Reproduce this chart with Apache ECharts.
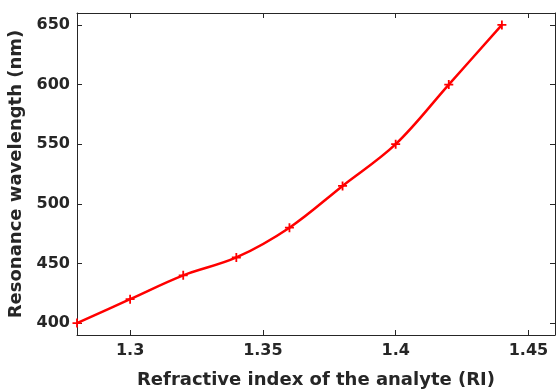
<!DOCTYPE html>
<html>
<head>
<meta charset="utf-8">
<script src="https://cdn.jsdelivr.net/npm/echarts@6/dist/echarts.min.js"></script>
<style>
  html, body { margin: 0; padding: 0; background: #fff; }
  #chart { width: 556px; height: 390px; }
</style>
</head>
<body>
<div id="chart"></div>
<script>
// data
var ri = [1.28, 1.30, 1.32, 1.34, 1.36, 1.38, 1.40, 1.42, 1.44];
var wavelength = [400, 420, 440, 455, 480, 515, 550, 600, 650];
var xTicks = [1.3, 1.35, 1.4, 1.45];
var yTicks = [400, 450, 500, 550, 600, 650];

var textColor = '#262626';
var font = 'DejaVu Sans, Arial, sans-serif';
var points = ri.map(function (x, i) { return [x, wavelength[i]]; });

var myChart = echarts.init(document.getElementById('chart'));

function axisBase(ticks, isMain) {
  return {
    type: 'value',
    axisLine: { show: true, onZero: false, lineStyle: { color: textColor, width: 1 } },
    axisTick: { show: true, inside: true, length: 5, customValues: ticks, lineStyle: { color: textColor } },
    axisLabel: {
      show: isMain, customValues: ticks,
      color: textColor, fontSize: 16, fontWeight: 'bold', fontFamily: font
    },
    splitLine: { show: false }
  };
}

var xMain = Object.assign(axisBase(xTicks, true), {
  min: 1.28, max: 1.46, position: 'bottom',
  name: 'Refractive index of the analyte (RI)',
  nameLocation: 'middle', nameGap: 36,
  nameTextStyle: { color: textColor, fontSize: 18, fontWeight: 'bold', fontFamily: font }
});
xMain.axisLabel.margin = 8;
var xTop = Object.assign(axisBase(xTicks, false), { min: 1.28, max: 1.46, position: 'top' });

var yMain = Object.assign(axisBase(yTicks, true), {
  min: 390, max: 660, position: 'left',
  name: 'Resonance wavelength (nm)',
  nameLocation: 'middle', nameGap: 44,
  nameTextStyle: { color: textColor, fontSize: 18, fontWeight: 'bold', fontFamily: font }
});
yMain.axisLabel.margin = 7;
var yRight = Object.assign(axisBase(yTicks, false), { min: 390, max: 660, position: 'right' });

myChart.setOption({
  animation: false,
  grid: { left: 77, right: 1, top: 13, bottom: 55, containLabel: false, outerBoundsMode: 'none' },
  xAxis: [xMain, xTop],
  yAxis: [yMain, yRight],
  series: [
    {
      type: 'line',
      smooth: 0.35,
      data: points,
      symbol: 'path://M4,0H6V4H10V6H6V10H4V6H0V4H4Z',
      symbolSize: 9,
      showSymbol: true,
      itemStyle: { color: '#ff0000' },
      lineStyle: { color: '#ff0000', width: 2.5 }
    }
  ]
});
</script>
</body>
</html>
